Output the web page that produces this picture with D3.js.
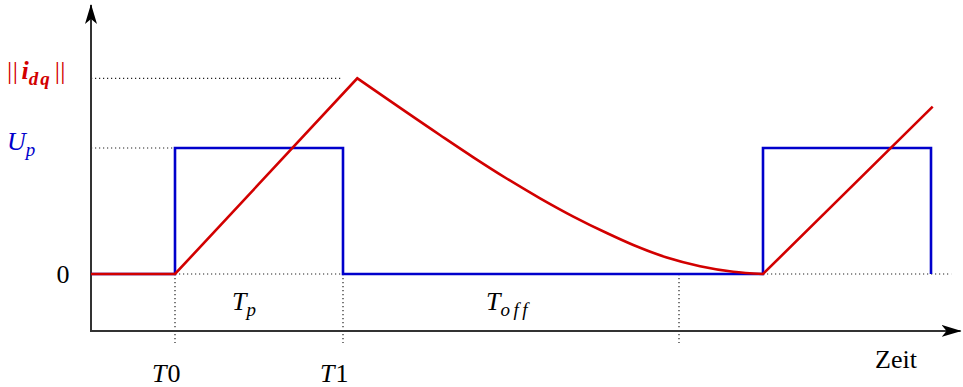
<!DOCTYPE html>
<html>
<head>
<meta charset="utf-8">
<script src="https://cdn.jsdelivr.net/npm/d3@7"></script>
<style>
  html, body { margin: 0; padding: 0; background: #fff; }
  svg { display: block; }
</style>
</head>
<body>
<svg id="chart" width="963" height="387"></svg>
<script>
// Pulse voltage (normalised, 1 = U_p) over time
const pulseT = [0, 0.5, 0.5, 1.5, 1.5, 4.0, 4.0, 5.0, 5.0];
const pulseV = [0, 0, 1, 1, 0, 0, 1, 1, 0];

// Current magnitude: linear rise during T_p, decay during T_off, next rise
const riseT = [0, 0.5, 1.585];
const riseV = [0, 0, 1.553];
const decayT = [1.585, 2.077, 2.276, 2.474, 2.673, 2.871, 3.070, 3.228, 3.427, 3.625, 3.823, 4.0];
const decayV = [1.553, 1.103, 0.926, 0.758, 0.601, 0.456, 0.325, 0.230, 0.131, 0.062, 0.018, 0];
const rise2T = [4.0, 5.01];
const rise2V = [0, 1.328];

// Time markers and levels
const markerT = [0.5, 1.5, 3.5];
const markerLabels = ["T0", "T1", null];
const peakLevel = 1.553;
const upLevel = 1;
const tMin = 0, tMax = 5.17;
const vMin = -0.452, vMax = 2.135;

const red = "#d20000";
const blue = "#0000cc";
const axisColor = "#333";
const serif = "Liberation Serif";
const mainSize = 26, subSize = 19;

const svg = d3.select("#chart");
const x = d3.scaleLinear().domain([0, 1]).range([91, 259]);
const y = d3.scaleLinear().domain([0, 1]).range([274, 148]);

const zip = (ts, vs) => ts.map((t, i) => [t, vs[i]]);
const line = d3.line().x(d => x(d[0])).y(d => y(d[1]));
const smooth = d3.line().x(d => x(d[0])).y(d => y(d[1])).curve(d3.curveMonotoneX);

// Text helpers: every text and tspan carries its own font settings
function label(px, py, color) {
  return svg.append("text").attr("x", px).attr("y", py)
    .attr("fill", color || "#000")
    .attr("font-family", serif).attr("font-size", mainSize);
}
function part(t, txt, opts) {
  opts = opts || {};
  const s = t.append("tspan").text(txt)
    .attr("font-family", serif)
    .attr("font-size", opts.size || mainSize)
    .attr("font-style", opts.italic ? "italic" : "normal")
    .attr("font-weight", opts.bold ? "bold" : "normal");
  if (opts.dx != null) s.attr("dx", opts.dx);
  if (opts.dy != null) s.attr("dy", opts.dy);
  if (opts.ls != null) s.attr("letter-spacing", opts.ls);
  return s;
}

// Arrow markers for the axes
const defs = svg.append("defs");
defs.append("marker")
  .attr("id", "arrow").attr("viewBox", "0 -6 20 12")
  .attr("refX", 19).attr("refY", 0)
  .attr("markerWidth", 20).attr("markerHeight", 12)
  .attr("markerUnits", "userSpaceOnUse").attr("orient", "auto")
  .append("path").attr("d", "M0,-6 L20,0 L0,6 L5,0 Z").attr("fill", "#000");

function dots(x1, y1, x2, y2) {
  svg.append("line").attr("x1", x1).attr("y1", y1).attr("x2", x2).attr("y2", y2)
    .attr("stroke", "#222").attr("stroke-width", 1.2)
    .attr("stroke-dasharray", "1.2,2.8").attr("fill", "none");
}

// Guide lines
dots(x(tMin), y(peakLevel), x(1.5), y(peakLevel));
dots(x(tMin), y(upLevel), x(0.5), y(upLevel));
dots(x(tMin), y(0), x(5.12), y(0));
markerT.forEach(t => dots(x(t), y(0), x(t), y(vMin) + 12));

// Axes
svg.append("line")
  .attr("x1", x(tMin)).attr("y1", y(vMin)).attr("x2", x(tMax) + 1).attr("y2", y(vMin))
  .attr("stroke", axisColor).attr("stroke-width", 2).attr("marker-end", "url(#arrow)");
svg.append("line")
  .attr("x1", x(tMin)).attr("y1", y(vMin) + 1).attr("x2", x(tMin)).attr("y2", y(vMax))
  .attr("stroke", axisColor).attr("stroke-width", 2).attr("marker-end", "url(#arrow)");

// Voltage pulses
svg.append("path")
  .attr("d", line(zip(pulseT, pulseV)))
  .attr("fill", "none").attr("stroke", blue).attr("stroke-width", 2.6)
  .attr("stroke-linejoin", "miter");

// Current trace
const dCurrent = line(zip(riseT, riseV)) +
  smooth(zip(decayT, decayV)).replace(/^M/, "L") +
  line(zip(rise2T, rise2V)).replace(/^M/, "L");
svg.append("path")
  .attr("d", dCurrent)
  .attr("fill", "none").attr("stroke", red).attr("stroke-width", 2.6)
  .attr("stroke-linejoin", "miter");

// Level labels
const idq = label(7, 79, red);
part(idq, "||", { ls: 0.5 });
part(idq, "i", { dx: 3, bold: true, italic: true });
part(idq, "dq", { dy: 6, size: subSize, bold: true, italic: true, ls: 2 });
part(idq, "||", { dy: -6, dx: 3, ls: 0.5 });

const up = label(7, 150, blue);
part(up, "U", { italic: true });
part(up, "p", { dy: 6, size: subSize, italic: true });

const zero = label(63, 283).attr("text-anchor", "middle");
part(zero, "0");

// Time labels
markerT.forEach((t, i) => {
  if (!markerLabels[i]) return;
  const lbl = label(x(t) - 23, 382);
  part(lbl, markerLabels[i][0], { italic: true });
  part(lbl, markerLabels[i].slice(1), { dx: 1 });
});

const tp = label(232, 310);
part(tp, "T", { italic: true });
part(tp, "p", { dy: 6, size: subSize, italic: true });

const toff = label(486, 310);
part(toff, "T", { italic: true });
part(toff, "off", { dy: 6, size: subSize, italic: true, ls: 3.5 });

const zeit = label(875, 368);
part(zeit, "Zeit");
</script>
</body>
</html>
